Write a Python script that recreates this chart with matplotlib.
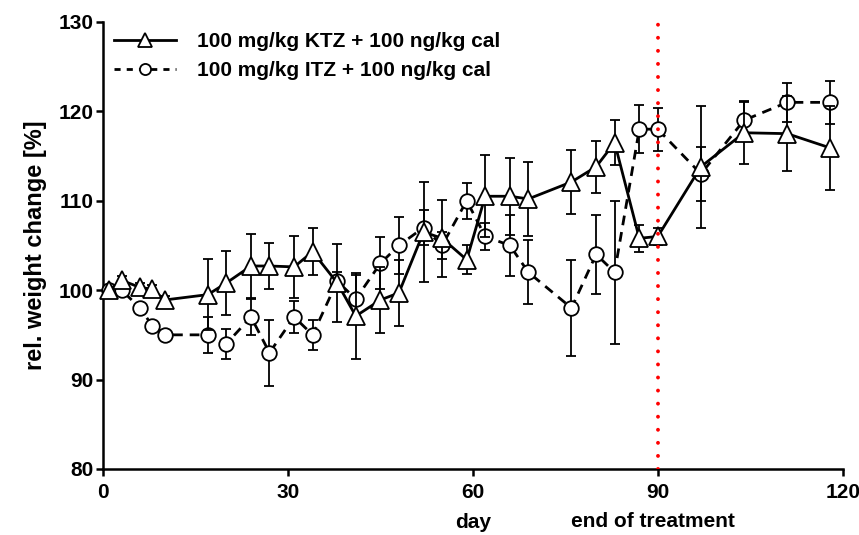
import matplotlib
matplotlib.use("Agg")
import matplotlib.pyplot as plt
from matplotlib.lines import Line2D

# days of measurement
days = [1, 3, 6, 8, 10, 17, 20, 24, 27, 31, 34, 38, 41, 45, 48, 52, 55, 59,
        62, 66, 69, 76, 80, 83, 87, 90, 97, 104, 111, 118]

# 100 mg/kg KTZ + 100 ng/kg cal
ktz_mean = [100.0, 101.1, 100.3, 100.1, 98.9, 99.5, 100.8, 102.7, 102.7, 102.6,
            104.3, 100.8, 97.1, 98.9, 99.7, 106.5, 105.8, 103.4, 110.5, 110.5,
            110.2, 112.1, 113.8, 116.5, 105.8, 106.0, 113.8, 117.6, 117.5, 115.9]
ktz_sd = [0.0, 0.5, 0.5, 0.5, 0.5, 4.0, 3.6, 3.6, 2.6, 3.5,
          2.6, 4.4, 4.8, 3.7, 3.7, 5.6, 4.3, 1.6, 4.6, 4.3,
          4.1, 3.6, 2.9, 2.5, 1.5, 1.0, 6.8, 3.5, 4.2, 4.7]

# 100 mg/kg ITZ + 100 ng/kg cal
itz_mean = [100.0, 100.0, 98.0, 96.0, 95.0, 95.0, 94.0, 97.0, 93.0, 97.0,
            95.0, 101.0, 99.0, 103.0, 105.0, 107.0, 105.0, 110.0, 106.0, 105.0,
            102.0, 98.0, 104.0, 102.0, 118.0, 118.0, 113.0, 119.0, 121.0, 121.0]
itz_sd = [0.0, 0.5, 0.5, 0.5, 0.5, 2.0, 1.7, 2.0, 3.7, 1.8,
          1.7, 1.0, 2.7, 2.9, 3.2, 2.0, 1.5, 2.0, 1.5, 3.4,
          3.6, 5.4, 4.4, 8.0, 2.7, 2.4, 3.0, 2.0, 2.2, 2.4]

labels = ["100 mg/kg KTZ + 100 ng/kg cal", "100 mg/kg ITZ + 100 ng/kg cal"]
x_ticks = [0, 30, 60, 90, 120]
y_ticks = [80, 90, 100, 110, 120, 130]
end_of_treatment = 90

FONT = "Liberation Sans"
FS = 15
plt.rcParams.update({
    "font.family": FONT,
    "font.weight": "bold",
    "font.size": FS,
})

fig = plt.figure(figsize=(8.59, 5.35), dpi=100)
ax = fig.add_axes([0.12, 0.1234, 0.861, 0.8357])

# ITZ first so the KTZ triangles sit on top where they overlap
ax.errorbar(days, itz_mean, yerr=itz_sd, color="black", lw=2.0,
            linestyle=(0, (3.5, 2.5)),
            marker="o", ms=10.5, mfc="white", mec="black", mew=1.3,
            elinewidth=1.3, capsize=3.5, capthick=1.3, clip_on=False,
            zorder=3)
ax.errorbar(days, ktz_mean, yerr=ktz_sd, color="black", lw=2.0,
            marker="^", ms=13, mfc="white", mec="black", mew=1.3,
            elinewidth=1.3, capsize=3.5, capthick=1.3, clip_on=False,
            zorder=4)

ax.axvline(end_of_treatment, color="red", lw=2.8,
           linestyle=(0, (0.01, 3.35)), dash_capstyle="round", zorder=5)

ax.set_xlim(0, 120)
ax.set_ylim(80, 130)
ax.set_xticks(x_ticks)
ax.set_yticks(y_ticks)

for side in ["top", "right"]:
    ax.spines[side].set_visible(False)
for side in ["left", "bottom"]:
    ax.spines[side].set_linewidth(1.8)
ax.tick_params(direction="out", length=5, width=1.8, labelsize=FS)
ax.tick_params(axis="x", pad=5)
ax.tick_params(axis="y", pad=2)

ax.set_ylabel("rel. weight change [%]", fontsize=17, fontweight="bold",
              labelpad=8)
ax.set_xlabel("day", fontsize=FS, fontweight="bold", labelpad=8)
ax.text(end_of_treatment - 0.8, -0.118, "end of treatment",
        transform=ax.get_xaxis_transform(), ha="center", va="center",
        fontsize=FS, fontweight="bold")

# legend handles without error bars
handles = [
    Line2D([], [], color="black", lw=2.0, marker="^", ms=10,
           mfc="white", mec="black", mew=1.3),
    Line2D([], [], color="black", lw=2.0, linestyle=(0, (2.2, 2.2)),
           marker="o", ms=8, mfc="white", mec="black", mew=1.3),
]
ax.legend(handles, labels, loc="upper left", bbox_to_anchor=(-0.005, 1.01),
          frameon=False, handlelength=3.0, handletextpad=1.0,
          labelspacing=0.5, borderaxespad=0.3,
          prop={"family": FONT, "weight": "bold", "size": FS})

fig.savefig("out.png", dpi=100)
